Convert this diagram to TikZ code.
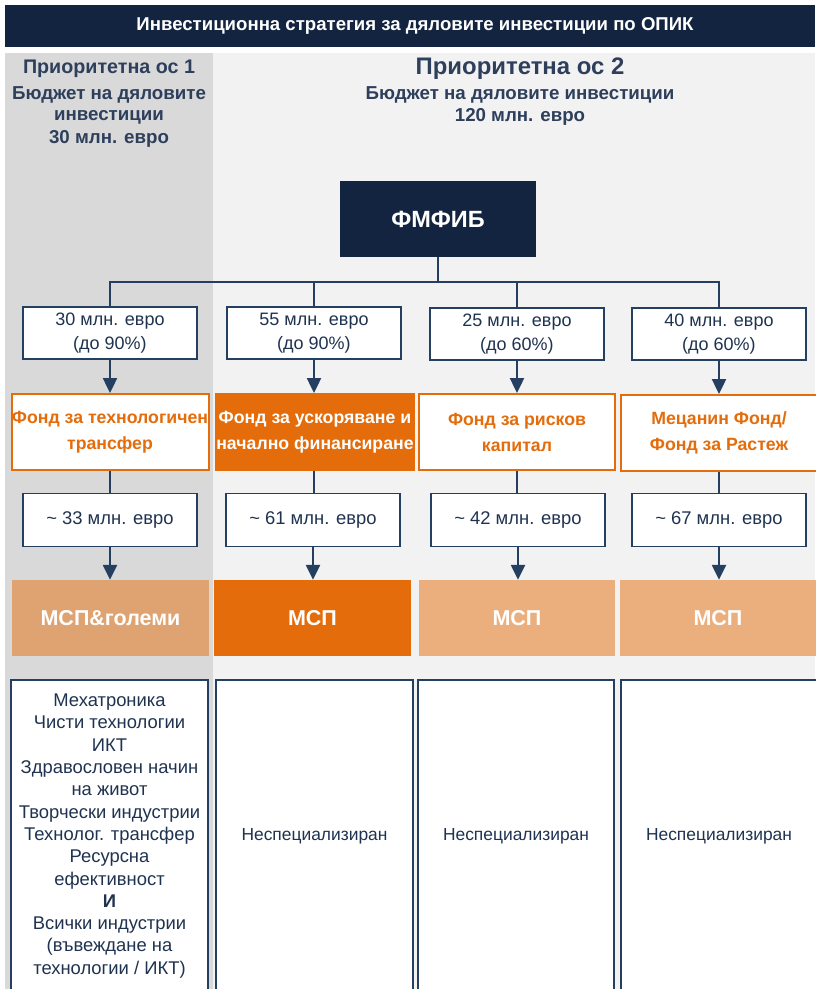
\documentclass[tikz,border=0pt]{standalone}
\usepackage{fontspec}
\setmainfont{Liberation Sans}
\usetikzlibrary{arrows.meta}
\definecolor{navy}{HTML}{12243F}
\definecolor{lnc}{HTML}{243F60}
\definecolor{txt}{HTML}{1F3350}
\definecolor{hdr}{HTML}{2E3F5C}
\definecolor{orng}{HTML}{E46C0A}
\definecolor{tanc}{HTML}{DFA271}
\definecolor{lorng}{HTML}{EBAF7D}
\definecolor{gdark}{HTML}{D9D9D9}
\definecolor{glight}{HTML}{F2F2F2}
\begin{document}
\begin{tikzpicture}[x=1pt,y=-1pt,
  conn/.style={draw=lnc, line width=2.4pt},
  arr/.style={conn, -{Triangle[width=14pt,length=15pt]}},
  topbox/.style={draw=lnc, line width=1.3pt, fill=white, minimum width=174pt, minimum height=52pt, inner sep=0pt, align=center, text=txt, font=\fontsize{18}{24}\selectfont},
  fundbox/.style={draw=orng, line width=2pt, fill=white, minimum height=76pt, inner sep=0pt, align=center, text=orng, font=\bfseries\fontsize{17.7}{26}\selectfont},
  amtbox/.style={draw=lnc, line width=1.3pt, fill=white, minimum width=174pt, minimum height=53pt, inner sep=0pt, align=center, text=txt, font=\fontsize{18.4}{20}\selectfont},
  mspbox/.style={minimum height=76pt, inner sep=0pt, align=center, text=white, font=\bfseries\fontsize{21.5}{24}\selectfont},
  secbox/.style={draw=lnc, line width=1.3pt, fill=white, minimum height=312pt, inner sep=0pt, align=center, text=txt, font=\fontsize{18.4}{22.3}\selectfont},
  hbig/.style={text=hdr, font=\bfseries\fontsize{23.9}{26}\selectfont, inner sep=0pt},
  hsmall/.style={text=hdr, font=\bfseries\fontsize{18.7}{22}\selectfont, inner sep=0pt}
]
\useasboundingbox (0,0) rectangle (815,989);
\fill[white] (0,0) rectangle (815,989);
% title bar
\fill[navy] (5,5) rectangle (815,47);
\node[text=white, font=\bfseries\fontsize{18.6}{20}\selectfont] (title) at (415,26) {Инвестиционна стратегия за дяловите инвестиции по ОПИК};
% backgrounds
\fill[gdark] (5,53) rectangle (213,989);
\fill[glight] (213,53) rectangle (815,989);
% headings
\node[hbig, font=\bfseries\fontsize{19.7}{24}\selectfont] (p1a) at (109,69) {Приоритетна ос 1};
\node[hsmall] (p1b) at (109,95) {Бюджет на дяловите};
\node[hsmall] (p1c) at (109,117) {инвестиции};
\node[hsmall] (p1d) at (109,139) {30 млн. евро};
\node[hbig] (p2a) at (520,69) {Приоритетна ос 2};
\node[hsmall] (p2b) at (520,95) {Бюджет на дяловите инвестиции};
\node[hsmall] (p2c) at (520,117) {120 млн. евро};
% FMFIB
\node[fill=navy, minimum width=196pt, minimum height=76pt, inner sep=0pt, text=white, font=\bfseries\fontsize{23.5}{26}\selectfont] (fm) at (438,219) {ФМФИБ};
% top boxes
\node[topbox] (b1) at (110,333) {30 млн. евро\\(до 90\%)};
\node[topbox] (b2) at (314,333) {55 млн. евро\\(до 90\%)};
\node[topbox] (b3) at (517,334) {25 млн. евро\\(до 60\%)};
\node[topbox] (b4) at (719,334) {40 млн. евро\\(до 60\%)};
% fund boxes
\node[fundbox, minimum width=197pt] (f1) at (110,432) {Фонд за технологичен\\трансфер};
\node[fundbox, fill=orng, text=white, minimum width=198pt] (f2) at (315,432) {Фонд за ускоряване и\\начално финансиране};
\node[fundbox, minimum width=196pt] (f3) at (517,432) {Фонд за рисков\\капитал};
\node[fundbox, minimum width=196pt] (f4) at (719,433) {Мецанин Фонд/\\Фонд за Растеж};
% amount boxes
\node[amtbox] (a1) at (110,520) {\textasciitilde{} 33 млн. евро};
\node[amtbox] (a2) at (313,520) {\textasciitilde{} 61 млн. евро};
\node[amtbox] (a3) at (518,520) {\textasciitilde{} 42 млн. евро};
\node[amtbox] (a4) at (719,520) {\textasciitilde{} 67 млн. евро};
% MSP boxes
\node[mspbox, fill=tanc, minimum width=197pt] (m1) at (110.5,618) {МСП\&големи};
\node[mspbox, fill=orng, minimum width=197pt] (m2) at (312.5,618) {МСП};
\node[mspbox, fill=lorng, minimum width=196pt] (m3) at (517,618) {МСП};
\node[mspbox, fill=lorng, minimum width=196pt] (m4) at (718,618) {МСП};
% sector boxes
\node[secbox, minimum width=197pt] (d1) at (109.5,836) {Мехатроника\\Чисти технологии\\ИКТ\\Здравословен начин\\на живот\\Творчески индустрии\\Технолог. трансфер\\Ресурсна\\ефективност\\\textbf{И}\\Всички индустрии\\(въвеждане на\\технологии / ИКТ)};
\node[secbox, minimum width=197pt, font=\fontsize{17.4}{20}\selectfont] (d2) at (314.5,836) {Неспециализиран};
\node[secbox, minimum width=196pt, font=\fontsize{17.4}{20}\selectfont] (d3) at (516,836) {Неспециализиран};
\node[secbox, minimum width=196pt, font=\fontsize{17.4}{20}\selectfont] (d4) at (719,836) {Неспециализиран};
% connectors
\coordinate (j0) at (438,282);
\coordinate (j1) at (110,282);
\coordinate (j2) at (314,282);
\coordinate (j3) at (517,282);
\coordinate (j4) at (719,282);
\draw[conn] (fm.south) -- (j0);
\draw[conn, line cap=rect] (j1) -- (j4);
\draw[conn] (j1) -- (b1.north);
\draw[conn] (j2) -- (b2.north);
\draw[conn] (j3) -- (b3.north);
\draw[conn] (j4) -- (b4.north);
\foreach \i in {1,2,3,4}{
  \draw[arr] (b\i.south) -- (b\i.south |- f\i.north);
  \draw[conn] (b\i.south |- f\i.south) -- (b\i.south |- a\i.north);
  \draw[arr] (a\i.south) -- (a\i.south |- m\i.north);
}
\end{tikzpicture}
\end{document}
